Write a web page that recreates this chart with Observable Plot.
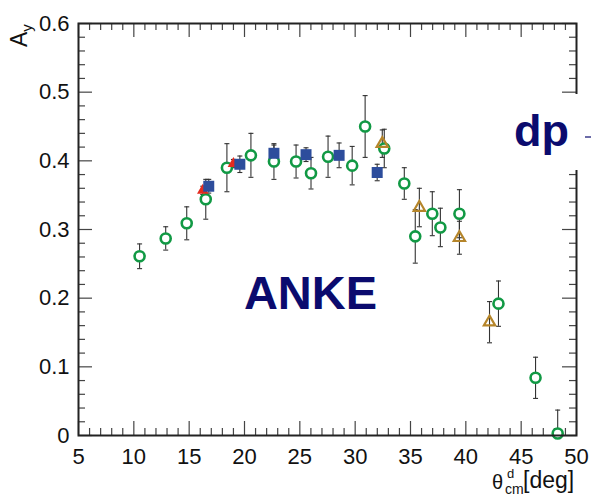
<!DOCTYPE html>
<html><head><meta charset="utf-8">
<script src="https://cdn.jsdelivr.net/npm/d3@7"></script>
<script src="https://cdn.jsdelivr.net/npm/@observablehq/plot@0.6"></script>
<style>
body{margin:0;background:#fff;}
#chart{width:591px;height:497px;}
svg{font-family:"Liberation Sans",Arial,sans-serif;}
</style>
</head><body><div id="chart"></div>
<script>
// Green open circles
const circX = [10.52,12.88,14.78,16.50,18.41,20.58,22.66,24.66,26.01,27.55,29.73,30.90,32.63,34.44,35.43,36.97,37.70,39.42,42.95,46.30,48.30];
const circY = [0.261,0.287,0.309,0.344,0.390,0.408,0.399,0.399,0.382,0.406,0.393,0.450,0.418,0.367,0.290,0.323,0.303,0.323,0.192,0.084,0.003];
const circE = [0.018,0.017,0.024,0.029,0.035,0.032,0.026,0.024,0.023,0.030,0.028,0.045,0.028,0.023,0.039,0.032,0.028,0.035,0.033,0.030,0.034];
// Blue filled squares
const sqX = [16.77,19.58,22.66,25.56,28.55,31.99];
const sqY = [0.363,0.395,0.411,0.409,0.408,0.383];
const sqE = [0.010,0.012,0.012,0.010,0.018,0.012];
// Red filled triangles
const redX = [16.23,19.00];
const redY = [0.357,0.396];
const redE = [0.006,0.006];
// Brown open triangles
const brX = [32.45,35.80,39.42,42.14];
const brY = [0.425,0.332,0.288,0.165];
const brE = [0.020,0.028,0.024,0.030];

const xTickLabels = [5,10,15,20,25,30,35,40,45,50];
const yTickLabels = [0,0.1,0.2,0.3,0.4,0.5,0.6];

const rows = (xs, ys, es) => xs.map((x, i) => ({x, y: ys[i], e: es[i]}));
const circ = rows(circX, circY, circE);
const sq = rows(sqX, sqY, sqE);
const red = rows(redX, redY, redE);
const br = rows(brX, brY, brE);
const all = [...sq, ...circ, ...red, ...br];

const W = 591, H = 497, mL = 78, mR = 15, mT = 23, mB = 62;
const pw = W - mL - mR, ph = H - mT - mB;
const xMajor = xTickLabels;
const xMinor = d3.range(5, 51, 1).filter(v => v % 5 !== 0);
const yMajor = yTickLabels;
const yMinor = d3.range(0, 31).map(i => +(i * 0.02).toFixed(2)).filter(v => Math.round(v * 100) % 10 !== 0);
const tickCol = "#444";
const capSym = {draw(ctx, size) { const r = Math.sqrt(size / Math.PI); ctx.moveTo(-r, 0); ctx.lineTo(r, 0); }};
const errCol = "#333";

const plot = Plot.plot({
  width: W, height: H,
  marginLeft: mL, marginRight: mR, marginTop: mT, marginBottom: mB,
  x: {domain: [5, 50]},
  y: {domain: [0, 0.6]},
  style: {fontFamily: '"Liberation Sans", Arial, sans-serif', background: "#fff"},
  marks: [
    Plot.tickX(xMajor, {x: d => d, insetTop: ph - 14, stroke: tickCol, strokeWidth: 1.2}),
    Plot.tickX(xMinor, {x: d => d, insetTop: ph - 7, stroke: tickCol, strokeWidth: 1.2}),
    Plot.tickX(xMajor, {x: d => d, insetBottom: ph - 14, stroke: tickCol, strokeWidth: 1.2}),
    Plot.tickX(xMinor, {x: d => d, insetBottom: ph - 7, stroke: tickCol, strokeWidth: 1.2}),
    Plot.tickY(yMajor, {y: d => d, insetRight: pw - 14, stroke: tickCol, strokeWidth: 1.2}),
    Plot.tickY(yMinor, {y: d => d, insetRight: pw - 7, stroke: tickCol, strokeWidth: 1.2}),
    Plot.tickY(yMajor, {y: d => d, insetLeft: pw - 14, stroke: tickCol, strokeWidth: 1.2}),
    Plot.tickY(yMinor, {y: d => d, insetLeft: pw - 7, stroke: tickCol, strokeWidth: 1.2}),
    Plot.axisX({ticks: xTickLabels, tickSize: 0, tickPadding: 13, fontSize: 22, label: null, tickFormat: d => String(d), fill: "#111"}),
    Plot.axisY({ticks: yTickLabels, tickSize: 0, tickPadding: 9, fontSize: 22, label: null, tickFormat: d => d === 0 ? "0" : d.toFixed(1), fill: "#111"}),
    Plot.ruleX(all, {x: "x", y1: d => d.y - d.e, y2: d => d.y + d.e, stroke: errCol, strokeWidth: 1.1, clip: true}),
    Plot.dot(all, {x: "x", y: d => d.y + d.e, symbol: capSym, r: 2.5, stroke: errCol, strokeWidth: 1.1, clip: true}),
    Plot.dot(all, {x: "x", y: d => d.y - d.e, symbol: capSym, r: 2.5, stroke: errCol, strokeWidth: 1.1, clip: true}),
    Plot.dot(circ, {x: "x", y: "y", symbol: "circle", r: 5, fill: "white", stroke: "#119944", strokeWidth: 2.6}),
    Plot.dot(red, {x: "x", y: "y", symbol: "triangle", r: 4.3, fill: "#e42b1f", stroke: "none"}),
    Plot.dot(sq, {x: "x", y: "y", symbol: "square", r: 6.2, fill: "#2d4d9c", stroke: "none"}),
    Plot.dot(br, {x: "x", y: "y", symbol: "triangle", r: 4.2, fill: "none", stroke: "#b5852a", strokeWidth: 2.2}),
    Plot.frame({stroke: "#222", strokeWidth: 2}),
    Plot.text(["ANKE"], {frameAnchor: "top-left", dx: 310 - mL, dy: 308 - mT, textAnchor: "middle", lineAnchor: "bottom", fontSize: 47, fontWeight: "bold", fill: "#0b0b6e"})
  ]
});
document.getElementById("chart").appendChild(plot);

const svg = d3.select(plot);
const txt = (x, y, size, s) => svg.append("text").attr("x", x).attr("y", y).attr("font-size", size)
  .attr("text-anchor", "start").attr("fill", "#111").text(s);
// "dp" label box overlapping right frame
svg.append("rect").attr("x", 506).attr("y", 94).attr("width", 85).attr("height", 76).attr("fill", "white");
txt(514, 146, 45, "dp").attr("font-weight", "bold").attr("fill", "#0b0b6e");
svg.append("line").attr("x1", 585).attr("x2", 591).attr("y1", 137).attr("y2", 137)
  .attr("stroke", "#0b0b6e").attr("stroke-width", 1.2);
// y-axis title A_y
const yt = svg.append("text").attr("transform", "translate(27,47) rotate(-90)").attr("font-size", 23)
  .attr("text-anchor", "start").attr("fill", "#111");
yt.append("tspan").text("A");
yt.append("tspan").attr("font-size", 15).attr("dy", 5).text("y");
// x-axis title θ^d_cm [deg]
txt(492, 489, 20, "θ");
txt(507, 478, 13, "d");
txt(505, 494, 14, "cm");
txt(523, 488, 23, "[deg]");
</script>
</body></html>
